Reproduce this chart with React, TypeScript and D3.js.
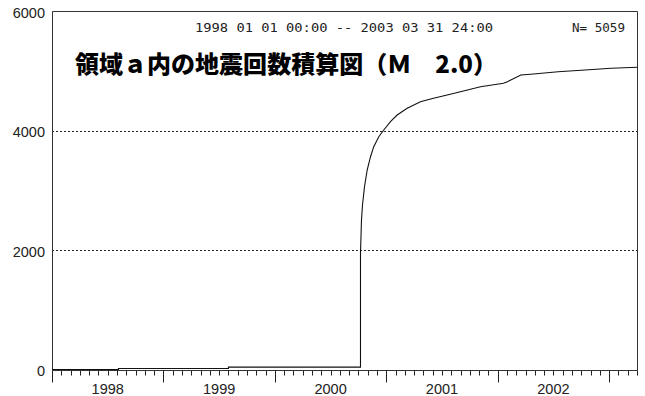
import React, { useRef, useEffect } from "react";
import * as d3 from "d3";

// cumulative count of events (decimal year -> running total)
const eventYears = [
  1998.0, 1998.592, 1998.592, 1999.579, 1999.579, 2000.764, 2000.764,
  2000.773, 2000.782, 2000.8, 2000.824, 2000.854, 2000.883, 2000.928,
  2000.973, 2001.033, 2001.093, 2001.183, 2001.302, 2001.419, 2001.542,
  2001.661, 2001.841, 2002.047, 2002.083, 2002.203, 2002.317, 2002.537,
  2002.78, 2003.013, 2003.25,
];
const cumCounts = [
  0, 0, 18, 18, 40, 40, 1950, 2502, 2753, 3059, 3339, 3561, 3729, 3896, 4008,
  4147, 4259, 4371, 4482, 4539, 4594, 4649, 4733, 4790, 4817, 4929, 4946, 4984,
  5013, 5041, 5059,
];

const yTicks = [0, 2000, 4000, 6000];
const gridValues = [2000, 4000];
const yearLabels = [1998, 1999, 2000, 2001, 2002];
const majorTicks = [1998, 1999, 2000, 2001, 2002, 2003];

const titleText = "領域ａ内の地震回数積算図（Ｍ　2.0）";
const periodText = "1998 01 01 00:00 -- 2003 03 31 24:00";
const countText = "N= 5059";

const W = 645;
const H = 396;

const App = () => {
  const svgRef = useRef<SVGSVGElement>(null);

  useEffect(() => {
    document.body.style.margin = "0";
    const margin = { top: 11, right: 8, bottom: 26.5, left: 52 };

    const x = d3
      .scaleLinear()
      .domain([1998, 2003.25])
      .range([margin.left, W - margin.right]);
    const y = d3
      .scaleLinear()
      .domain([0, 6000])
      .range([H - margin.bottom, margin.top]);

    const monthTicks = d3.range(0, 64).map((k) => 1998 + k / 12);
    const data = eventYears.map((t, i) => ({ t, c: cumCounts[i] }));
    const px = (v: number) => Math.round(x(v)) + 0.5;

    const svg = d3.select(svgRef.current);
    svg.selectAll("*").remove();

    // dotted grid lines
    svg
      .append("g")
      .selectAll("line")
      .data(gridValues)
      .join("line")
      .attr("x1", x(1998))
      .attr("x2", x(2003.25))
      .attr("y1", (d) => Math.round(y(d)) + 0.5)
      .attr("y2", (d) => Math.round(y(d)) + 0.5)
      .attr("stroke", "#222")
      .attr("stroke-dasharray", "2,2")
      .attr("shape-rendering", "crispEdges");

    const yBot = Math.round(y(0)) + 0.5;

    // minor month ticks and major year ticks
    const minorPath = monthTicks.map((v) => `M${px(v)},${yBot}V${yBot + 5}`).join("");
    const majorPath = majorTicks.map((v) => `M${px(v)},${yBot}V${yBot + 12}`).join("");
    svg
      .append("path")
      .attr("d", minorPath + majorPath)
      .attr("fill", "none")
      .attr("stroke", "#222")
      .attr("stroke-width", 1);

    // frame: left axis, baseline, top, right
    const x0 = px(1998);
    const x1 = px(2003.25);
    const yTop = Math.round(y(6000)) + 0.5;
    svg
      .append("path")
      .attr("d", `M${x0},${yBot}V${yTop}H${x1}V${yBot}H${x0}`)
      .attr("fill", "none")
      .attr("stroke", "#333");

    // cumulative line
    const line = d3
      .line<{ t: number; c: number }>()
      .x((d) => x(d.t) + 0.5)
      .y((d) => y(d.c));

    svg
      .append("path")
      .datum(data)
      .attr("fill", "none")
      .attr("stroke", "#111")
      .attr("stroke-width", 1.1)
      .attr("d", line);

    // y labels
    svg
      .append("g")
      .selectAll("text")
      .data(yTicks)
      .join("text")
      .attr("x", 45)
      .attr("y", (d) => y(d) + 6.5)
      .attr("text-anchor", "end")
      .style("font-family", "'Liberation Sans', Arial, sans-serif")
      .style("font-size", "14.5px")
      .attr("fill", "#222")
      .text((d) => d);

    // year labels, centred in each year
    svg
      .append("g")
      .selectAll("text")
      .data(yearLabels)
      .join("text")
      .attr("x", (d) => x(d + 0.5))
      .attr("y", 394)
      .attr("text-anchor", "middle")
      .style("font-family", "'Liberation Sans', Arial, sans-serif")
      .style("font-size", "14.5px")
      .attr("fill", "#222")
      .text((d) => d);

    // header texts
    svg
      .append("text")
      .attr("x", 195)
      .attr("y", 32)
      .attr("textLength", 298)
      .attr("lengthAdjust", "spacingAndGlyphs")
      .style("font-family", "'DejaVu Sans Mono', monospace")
      .style("font-size", "13px")
      .attr("fill", "#222")
      .text(periodText);

    svg
      .append("text")
      .attr("x", 572)
      .attr("y", 32)
      .attr("textLength", 53)
      .attr("lengthAdjust", "spacingAndGlyphs")
      .style("font-family", "'DejaVu Sans Mono', monospace")
      .style("font-size", "13px")
      .attr("fill", "#222")
      .text(countText);

    // title
    svg
      .append("text")
      .attr("x", 75)
      .attr("y", 73)
      .attr("textLength", 422)
      .attr("lengthAdjust", "spacing")
      .style("font-family", "'Noto Sans CJK JP', sans-serif")
      .style("font-weight", "900")
      .style("font-size", "24px")
      .attr("fill", "#000")
      .text(titleText);
  }, []);

  return (
    <svg
      ref={svgRef}
      width={W}
      height={H}
      style={{ display: "block", background: "#fff" }}
    ></svg>
  );
};

export default App;
